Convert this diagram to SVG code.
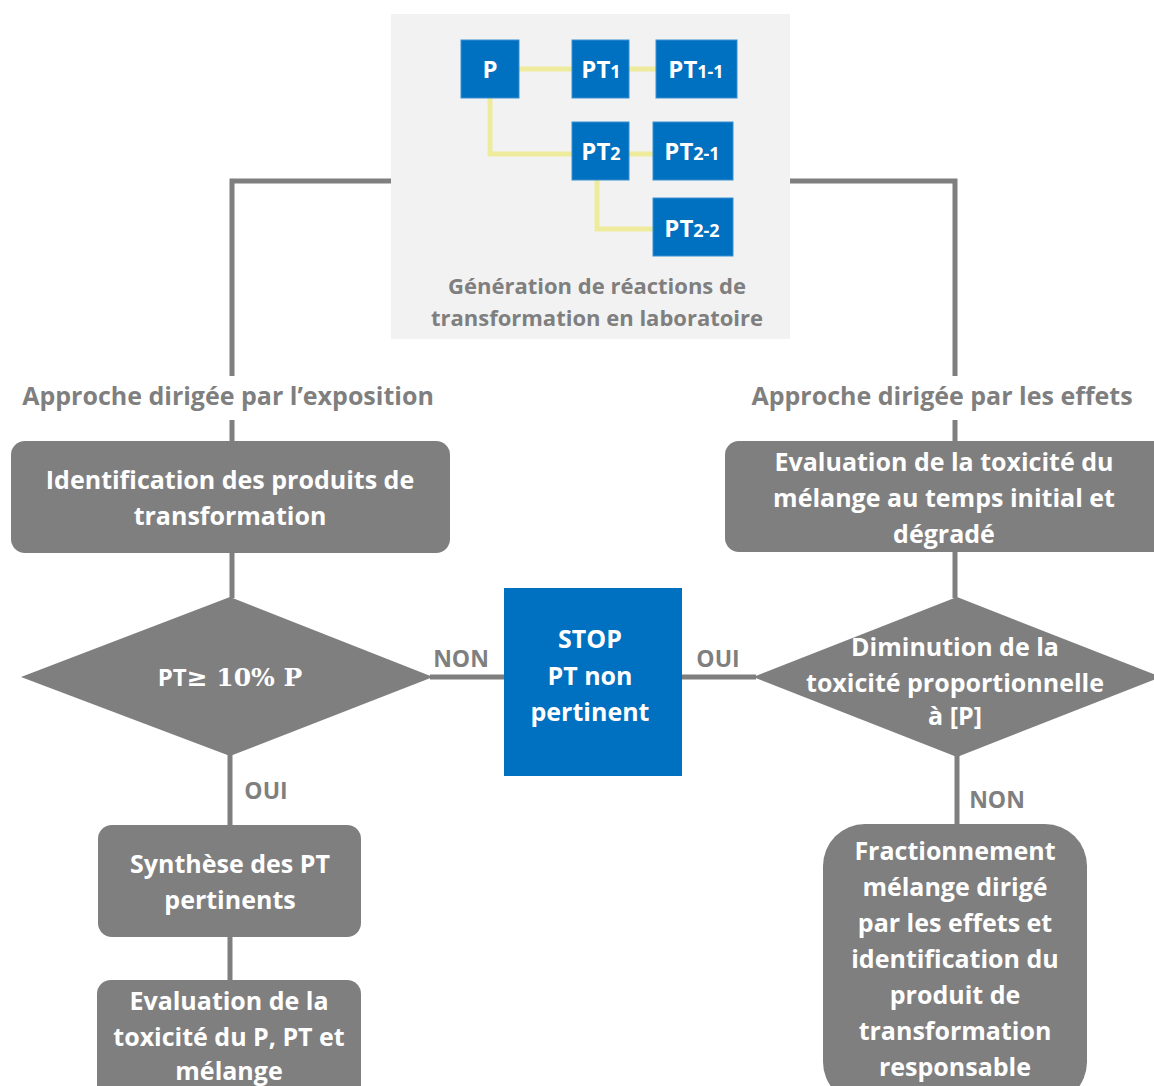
<svg xmlns="http://www.w3.org/2000/svg" width="1154" height="1086" viewBox="0 0 1154 1086">
<style>
.t{font-family:"Open Sans",Lato,"Liberation Sans",sans-serif;font-weight:700;text-anchor:middle}
.w{fill:#ffffff;font-size:25px}
.g{fill:#7f7f7f;font-size:25px}
.cap{fill:#7f7f7f;font-size:22px}
.lab{fill:#7f7f7f;font-size:23px}
.box{fill:#7f7f7f}
.blue{fill:#0070c0;stroke:#3a8fd0;stroke-width:1}
.pt{fill:#ffffff;font-size:24px}
.sub{font-size:18px}
.cn{fill:none;stroke:#7f7f7f;stroke-width:5}
.yl{fill:none;stroke:#eeeb9c;stroke-width:5}
</style>
<rect width="1154" height="1086" fill="#ffffff"/>
<g id="connectors">
<polyline class="cn" points="391,181 232,181 232,376"/>
<line class="cn" x1="232" y1="420" x2="232" y2="442"/>
<polyline class="cn" points="790,181 955,181 955,376"/>
<line class="cn" x1="955" y1="420" x2="955" y2="442"/>
<line class="cn" x1="232" y1="552" x2="232" y2="598"/>
<line class="cn" x1="955" y1="552" x2="955" y2="598"/>
<line class="cn" x1="430" y1="677" x2="505" y2="677"/>
<line class="cn" x1="681" y1="677" x2="756" y2="677"/>
<line class="cn" x1="230" y1="755" x2="230" y2="826"/>
<line class="cn" x1="230" y1="936" x2="230" y2="981"/>
<line class="cn" x1="957" y1="755" x2="957" y2="825"/>
<text class="t lab" x="461" y="667">NON</text>
<text class="t lab" x="718" y="667">OUI</text>
<text class="t lab" x="266" y="799">OUI</text>
<text class="t lab" x="997" y="808">NON</text>
</g>
<g id="lab-panel">
<rect x="391" y="14" width="399" height="325" fill="#f2f2f2"/>
<polyline class="yl" points="519,69 572,69"/>
<polyline class="yl" points="629,69 656,69"/>
<polyline class="yl" points="490,98 490,154 572,154"/>
<polyline class="yl" points="629,154 653,154"/>
<polyline class="yl" points="597,180 597,229 653,229"/>
<text class="t cap" x="597" y="294">Génération de réactions de</text>
<text class="t cap" x="597" y="326">transformation en laboratoire</text>
</g>
<g id="node-P"><rect class="blue" x="461" y="40" width="58" height="58"/><text class="t pt" x="490" y="78">P</text></g>
<g id="node-PT1"><rect class="blue" x="572" y="40" width="57" height="58"/><text class="t pt" x="601" y="78">PT<tspan class="sub">1</tspan></text></g>
<g id="node-PT1-1"><rect class="blue" x="656" y="40" width="81" height="58"/><text class="t pt" x="696" y="78">PT<tspan class="sub">1-1</tspan></text></g>
<g id="node-PT2"><rect class="blue" x="572" y="122" width="57" height="58"/><text class="t pt" x="601" y="160">PT<tspan class="sub">2</tspan></text></g>
<g id="node-PT2-1"><rect class="blue" x="653" y="122" width="80" height="58"/><text class="t pt" x="692" y="160">PT<tspan class="sub">2-1</tspan></text></g>
<g id="node-PT2-2"><rect class="blue" x="653" y="198" width="80" height="58"/><text class="t pt" x="692" y="237">PT<tspan class="sub">2-2</tspan></text></g>
<g id="label-exposition"><text class="t g" x="228" y="405">Approche dirigée par l’exposition</text></g>
<g id="label-effets"><text class="t g" x="942" y="405">Approche dirigée par les effets</text></g>
<g id="node-identification">
<rect class="box" x="11" y="441" width="439" height="112" rx="14"/>
<text class="t w" x="230" y="489">Identification des produits de</text>
<text class="t w" x="230" y="525">transformation</text>
</g>
<g id="node-evaluation-melange">
<rect class="box" x="725" y="441" width="445" height="111" rx="14"/>
<text class="t w" x="944" y="471">Evaluation de la toxicité du</text>
<text class="t w" x="944" y="507">mélange au temps initial et</text>
<text class="t w" x="944" y="543">dégradé</text>
</g>
<g id="node-decision-pt">
<polygon class="box" points="21,677 230,597 433,677 230,756"/>
<text x="230" y="686" fill="#ffffff" font-size="25" text-anchor="middle"><tspan font-family="'Open Sans',Lato,sans-serif" font-weight="700" font-size="24">PT</tspan><tspan font-family="'DejaVu Serif','Liberation Serif',serif" font-weight="700">≥ 10% P</tspan></text>
</g>
<g id="node-stop">
<rect x="504" y="588" width="178" height="188" fill="#0070c0"/>
<text class="t w" x="590" y="648">STOP</text>
<text class="t w" x="590" y="685">PT non</text>
<text class="t w" x="590" y="721">pertinent</text>
</g>
<g id="node-decision-tox">
<polygon class="box" points="753,677 957,597 1161,677 957,757"/>
<text class="t w" x="955" y="656">Diminution de la</text>
<text class="t w" x="955" y="692">toxicité proportionnelle</text>
<text class="t w" x="955" y="725">à [P]</text>
</g>
<g id="node-synthese">
<rect class="box" x="98" y="825" width="263" height="112" rx="14"/>
<text class="t w" x="230" y="873">Synthèse des PT</text>
<text class="t w" x="230" y="909">pertinents</text>
</g>
<g id="node-evaluation-ppt">
<rect class="box" x="97" y="980" width="264" height="120" rx="14"/>
<text class="t w" x="229" y="1010">Evaluation de la</text>
<text class="t w" x="229" y="1046">toxicité du P, PT et</text>
<text class="t w" x="229" y="1080">mélange</text>
</g>
<g id="node-fractionnement">
<rect class="box" x="823" y="824" width="264" height="280" rx="42"/>
<text class="t w" x="955" y="860">Fractionnement</text>
<text class="t w" x="955" y="896">mélange dirigé</text>
<text class="t w" x="955" y="932">par les effets et</text>
<text class="t w" x="955" y="968">identification du</text>
<text class="t w" x="955" y="1004">produit de</text>
<text class="t w" x="955" y="1040">transformation</text>
<text class="t w" x="955" y="1076">responsable</text>
</g>
</svg>
